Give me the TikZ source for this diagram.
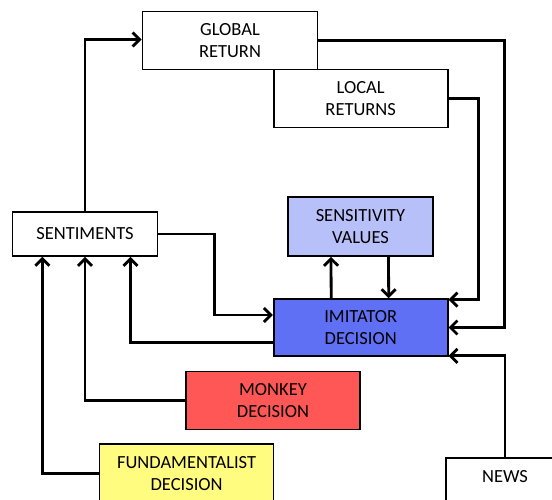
\documentclass[tikz,border=0pt]{standalone}
\usepackage{fontspec}
\setmainfont{Carlito}
\usetikzlibrary{arrows.meta}
\definecolor{imitblue}{RGB}{96,112,245}
\definecolor{sensblue}{RGB}{184,192,250}
\definecolor{monkeyred}{RGB}{255,86,86}
\definecolor{fundyellow}{RGB}{255,252,128}
\tikzset{
  txt/.style={font=\fontsize{18.5}{22}\selectfont},
  box/.style={draw=black, line width=1.6pt, fill=white, align=center,
    txt, inner sep=0pt},
  conn/.style={line width=2.8pt, -{Straight Barb[length=7pt,width=14pt]}}
}
\begin{document}
\begin{tikzpicture}[x=1pt,y=-1pt]
\useasboundingbox (0,0) rectangle (552,500);
\clip (0,0) rectangle (552,500);
\fill[white] (0,0) rectangle (552,500);
% nodes
\node[box, minimum width=175pt, minimum height=58pt] (global) at (230,40.5) {GLOBAL\\RETURN};
\node[box, minimum width=174pt, minimum height=58pt] (local) at (360.7,98.5) {LOCAL\\RETURNS};
\node[box, minimum width=145pt, minimum height=44pt] (sent) at (85,234) {SENTIMENTS};
\node[box, fill=sensblue, minimum width=145pt, minimum height=59pt] (sens) at (360.5,226.5) {SENSITIVITY\\VALUES};
\node[box, fill=imitblue, minimum width=174pt, minimum height=57pt] (imit) at (360.7,327.5) {IMITATOR\\DECISION};
\node[box, fill=monkeyred, minimum width=174pt, minimum height=58pt] (monkey) at (273,400.5) {MONKEY\\DECISION};
\node[box, fill=fundyellow, minimum width=174pt, minimum height=59pt] (fund) at (186.6,473.5) {FUNDAMENTALIST\\DECISION};
\node[box, minimum width=118pt, minimum height=59pt, label={[txt, yshift=10.5pt]center:NEWS}] (news) at (505,487.5) {};
% connectors
\draw[conn] (sent.north) |- ([yshift=1pt]global.west);
\draw[conn] (global.east) -- ++(186,0) |- (imit.east);
\draw[conn] (local.east) -- ++(30,0) |- ([yshift=-1.5pt]imit.north east);
\draw[conn] (news.north) |- ([yshift=1pt]imit.south east);
\draw[conn] (sent.east) -- ++(56,0) |- ([yshift=12.5pt]imit.west);
\draw[conn] ([yshift=-15pt]imit.west) -| ([xshift=45.5pt]sent.south);
\draw[conn] (monkey.west) -| (sent.south);
\draw[conn] (fund.west) -| ([xshift=-42.6pt]sent.south);
\draw[conn] ([xshift=-29.5pt]imit.north) -- ([xshift=-29.5pt]sens.south);
\draw[conn] ([xshift=28pt]sens.south) -- ([xshift=28pt]imit.north);
\end{tikzpicture}
\end{document}
